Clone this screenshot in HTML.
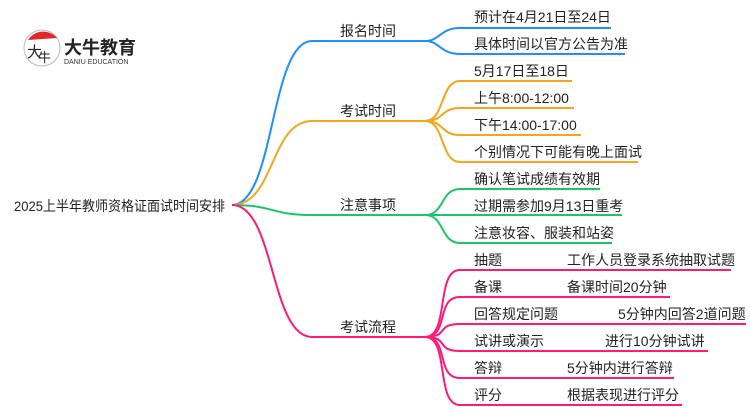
<!DOCTYPE html>
<html><head><meta charset="utf-8"><style>
body{margin:0;background:#fff;}
svg text{font-family:"Liberation Sans","Noto Sans CJK SC",sans-serif;}
</style></head><body>
<svg width="750" height="410" viewBox="0 0 750 410" xmlns="http://www.w3.org/2000/svg">
<rect width="750" height="410" fill="#fff"/>
<!-- logo -->
<circle cx="42" cy="48" r="18" fill="#fff" stroke="#bbb" stroke-width="1"/>
<path d="M28 40 A18 18 0 0 1 57 38 Z" fill="#e02a2a"/>
<text x="27" y="57" font-size="15" fill="#222">大</text>
<text x="38" y="62" font-size="13" fill="#222">牛</text>
<text x="64" y="54" font-size="18" font-weight="bold" fill="#222" textLength="72">大牛教育</text>
<text x="64" y="64" font-size="7" fill="#333">DANIU EDUCATION</text>
<!-- root -->
<text x="14" y="211" font-size="14" fill="#222" textLength="211" lengthAdjust="spacingAndGlyphs">2025上半年教师资格证面试时间安排</text>
<g fill="none" stroke-width="2">
<path d="M232 205 C275 205 270 41 312 41 L425 41" stroke="#1e8fff"/>
<path d="M425 41 C440 41 440 28 460 28 L611 28" stroke="#1e8fff"/>
<path d="M425 41 C440 41 440 54 460 54 L625 54" stroke="#1e8fff"/>
<path d="M232 205 C275 205 270 121 312 121 L425 121" stroke="#f5a61e"/>
<path d="M425 121 C445 121 440 81 460 81 L572 81" stroke="#f5a61e"/>
<path d="M425 121 C445 121 440 108 460 108 L574 108" stroke="#f5a61e"/>
<path d="M425 121 C445 121 440 135 460 135 L581 135" stroke="#f5a61e"/>
<path d="M425 121 C445 121 440 162 460 162 L638 162" stroke="#f5a61e"/>
<path d="M232 205 C275 205 270 215 312 215 L425 215" stroke="#1ec46a"/>
<path d="M425 215 C445 215 440 189 460 189 L600 189" stroke="#1ec46a"/>
<path d="M425 215 L622 215" stroke="#1ec46a"/>
<path d="M425 215 C445 215 440 243 460 243 L612 243" stroke="#1ec46a"/>
<path d="M232 205 C275 205 270 337 312 337 L425 337" stroke="#ff1a78"/>
<path d="M425 337 C450 337 435 270 460 270 L731 270" stroke="#ff1a78"/>
<path d="M425 337 C450 337 435 297 460 297 L670 297" stroke="#ff1a78"/>
<path d="M425 337 C450 337 435 324 460 324 L746 324" stroke="#ff1a78"/>
<path d="M425 337 C450 337 435 351 460 351 L708 351" stroke="#ff1a78"/>
<path d="M425 337 C450 337 435 378 460 378 L674 378" stroke="#ff1a78"/>
<path d="M425 337 C450 337 435 405 460 405 L682 405" stroke="#ff1a78"/>
</g>
<g font-size="14" fill="#222">
<text x="340" y="36">报名时间</text>
<text x="340" y="116">考试时间</text>
<text x="340" y="210">注意事项</text>
<text x="340" y="332">考试流程</text>
<text x="474" y="22">预计在4月21日至24日</text>
<text x="474" y="49">具体时间以官方公告为准</text>
<text x="474" y="76">5月17日至18日</text>
<text x="474" y="103">上午8:00-12:00</text>
<text x="474" y="130">下午14:00-17:00</text>
<text x="474" y="157">个别情况下可能有晚上面试</text>
<text x="474" y="184">确认笔试成绩有效期</text>
<text x="474" y="211">过期需参加9月13日重考</text>
<text x="474" y="238">注意妆容、服装和站姿</text>
<text x="474" y="265">抽题</text><text x="567" y="265">工作人员登录系统抽取试题</text>
<text x="474" y="292">备课</text><text x="567" y="292">备课时间20分钟</text>
<text x="474" y="319">回答规定问题</text><text x="618" y="319">5分钟内回答2道问题</text>
<text x="474" y="346">试讲或演示</text><text x="605" y="346">进行10分钟试讲</text>
<text x="474" y="373">答辩</text><text x="567" y="373">5分钟内进行答辩</text>
<text x="474" y="400">评分</text><text x="567" y="400">根据表现进行评分</text>
</g>
</svg>
</body></html>
